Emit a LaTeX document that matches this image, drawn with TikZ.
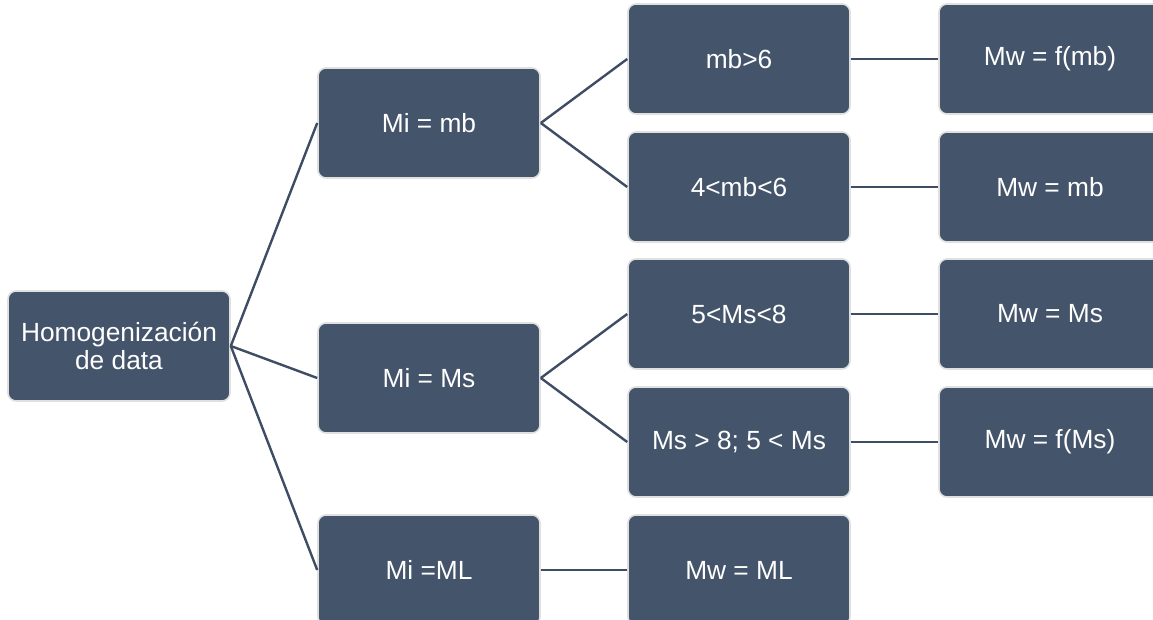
\documentclass[tikz,border=0pt]{standalone}
\usepackage{fontspec}
\setmainfont{Liberation Sans}
\definecolor{boxfill}{HTML}{44546A}
\definecolor{boxedge}{HTML}{E0E0E0}
\definecolor{linkcol}{HTML}{3E4D63}
\tikzset{
  box/.style={draw=boxedge, line width=1.6pt, fill=boxfill, rounded corners=8pt,
    minimum width=222pt, minimum height=110pt, inner sep=0pt, text=white,
    align=center, font=\fontsize{26.3}{27.5}\selectfont},
  link/.style={draw=linkcol, line width=2.4pt}
}
\begin{document}
\begin{tikzpicture}[x=1pt,y=-1pt]
\useasboundingbox (0,0) rectangle (1153,620);
\clip (0,0) rectangle (1153,620);
% root
\node[box] (root) at (119,346) {Homogenización\\de data};
% second column
\node[box] (mb) at (429,123) {Mi = mb};
\node[box] (ms) at (429,378) {Mi = Ms};
\node[box] (ml) at (429,570) {Mi =ML};
% third column
\node[box] (mbA) at (739,59) {mb>6};
\node[box] (mbB) at (739,187) {4<mb<6};
\node[box] (msA) at (739,314) {5<Ms<8};
\node[box] (msB) at (739,442) {Ms > 8; 5 < Ms};
\node[box] (mwml) at (739,570) {Mw = ML};
% fourth column
\node[box] (mwA) at (1050,59) {Mw = f(mb)};
\node[box] (mwB) at (1050,187) {Mw = mb};
\node[box] (mwC) at (1050,314) {Mw = Ms};
\node[box] (mwD) at (1050,442) {Mw = f(Ms)};
% connectors
\draw[link] (root.east) -- (mb.west);
\draw[link] (root.east) -- (ms.west);
\draw[link] (root.east) -- (ml.west);
\draw[link] (mb.east) -- (mbA.west);
\draw[link] (mb.east) -- (mbB.west);
\draw[link] (ms.east) -- (msA.west);
\draw[link] (ms.east) -- (msB.west);
\draw[link] (ml.east) -- (mwml.west);
\draw[link] (mbA.east) -- (mwA.west);
\draw[link] (mbB.east) -- (mwB.west);
\draw[link] (msA.east) -- (mwC.west);
\draw[link] (msB.east) -- (mwD.west);
\end{tikzpicture}
\end{document}
